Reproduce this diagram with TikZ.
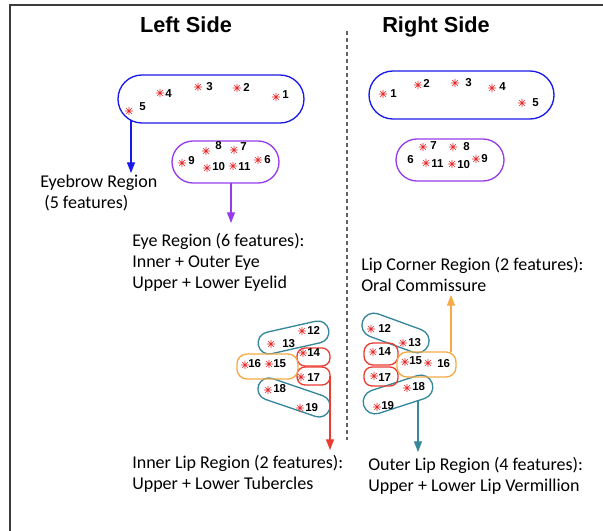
\documentclass[tikz,border=0pt]{standalone}
\usepackage{fontspec}
\setmainfont{Carlito}
\newfontfamily\arialf{Liberation Sans}
\usetikzlibrary{arrows.meta}
\newlength\pxu \setlength\pxu{0.75pt}
\definecolor{cblue}{RGB}{25,25,235}
\definecolor{cpurple}{RGB}{150,60,235}
\definecolor{cteal}{RGB}{55,135,155}
\definecolor{cred}{RGB}{235,60,50}
\definecolor{corange}{RGB}{245,170,70}
\definecolor{cstar}{RGB}{230,40,40}
\definecolor{cframe}{RGB}{60,60,60}
\tikzset{
 fstar/.pic={\draw[cstar,line width=0.5pt] (-4.2,0)--(4.2,0) (0,-4.2)--(0,4.2) (-3,-3)--(3,3) (-3,3)--(3,-3);},
 num/.style={font=\arialf\bfseries\fontsize{8.6}{9}\selectfont, inner sep=0, anchor=west},
 lab/.style={font=\fontsize{13.5}{16}\selectfont, inner sep=0, anchor=base west},
 head/.style={font=\arialf\bfseries\fontsize{16.3}{19}\selectfont, inner sep=0, anchor=base},
 region/.style={draw, line width=1pt, inner sep=0, outer sep=0},
 arr/.style={line width=0.9pt, -{Triangle[width=6pt,length=8pt]}},
}
\newcommand\feat[6]{\pic at (#2,#3) {fstar}; \node[num] (#1) at (#4,#5) {#6};}
\begin{document}
\begin{tikzpicture}[x=0.75pt,y=-0.75pt]
\useasboundingbox (0,0) rectangle (603,531);
% frame
\draw[cframe, line width=1.2pt] (10,531) -- (10,5) -- (603,5);
% divider
\draw[cframe!80, line width=0.8pt, dash pattern=on 4\pxu off 3\pxu] (347,31) -- (347,440);
% headings
\node[head] (hL) at (186,33) {Left Side};
\node[head] (hR) at (436,33) {Right Side};

% ---------- region boxes ----------
\node[region, cblue, minimum width=186\pxu, minimum height=48\pxu, rounded corners=24\pxu] (ebL) at (211,99) {};
\node[region, cpurple, minimum width=107\pxu, minimum height=42\pxu, rounded corners=21\pxu] (eyeL) at (225.5,162) {};
\node[region, cblue, minimum width=185\pxu, minimum height=48\pxu, rounded corners=24\pxu] (ebR) at (461.5,95) {};
\node[region, cpurple, minimum width=108\pxu, minimum height=42\pxu, rounded corners=21\pxu] (eyeR) at (450,160) {};

% left lips
\node[region, cteal, minimum width=72\pxu, minimum height=22\pxu, rounded corners=11\pxu, rotate=12.7] (ulL) at (293.5,337.5) {};
\node[region, cteal, minimum width=75\pxu, minimum height=22\pxu, rounded corners=11\pxu, rotate=-18.8] (llL) at (294,397.5) {};
\node[region, cred, minimum width=33\pxu, minimum height=18\pxu, rounded corners=8\pxu] (r14L) at (313.5,357) {};
\node[region, cred, minimum width=33\pxu, minimum height=18\pxu, rounded corners=8\pxu] (r17L) at (313.5,376) {};
\node[region, corange, minimum width=61\pxu, minimum height=25\pxu, rounded corners=10\pxu] (oL) at (267.5,366.5) {};

% right lips
\node[region, cteal, minimum width=70\pxu, minimum height=24\pxu, rounded corners=12\pxu, rotate=-20] (ulR) at (395.5,333) {};
\node[region, cteal, minimum width=72\pxu, minimum height=24\pxu, rounded corners=12\pxu, rotate=18] (llR) at (398,394.5) {};
\node[region, cred, minimum width=34\pxu, minimum height=22\pxu, rounded corners=9\pxu] (r14R) at (381,354) {};
\node[region, cred, minimum width=34\pxu, minimum height=19\pxu, rounded corners=8\pxu] (r17R) at (381,376.5) {};
\node[region, corange, minimum width=59\pxu, minimum height=25\pxu, rounded corners=10\pxu] (oR) at (426.5,364.5) {};

% ---------- features ----------
% left eyebrow
\feat{n5L}{129}{111}{139}{107}{5}
\feat{n4L}{160}{93}{165}{94}{4}
\feat{n3L}{198}{87}{206}{87}{3}
\feat{n2L}{237}{88}{243}{87}{2}
\feat{n1L}{276}{97}{282}{95}{1}
% left eye
\feat{n8L}{206}{151}{215}{146}{8}
\feat{n7L}{234}{150}{240}{147}{7}
\feat{n9L}{182}{163}{188}{161}{9}
\feat{n10L}{207}{168}{212}{167}{10}
\feat{n11L}{233}{166}{238}{167}{11}
\feat{n6L}{258}{160}{264}{160}{6}
% right eyebrow
\feat{n1R}{383}{94}{390}{94}{1}
\feat{n2R}{418}{85}{423}{83}{2}
\feat{n3R}{455}{83}{465}{83}{3}
\feat{n4R}{492}{88}{499}{87}{4}
\feat{n5R}{522}{103}{532}{103}{5}
% right eye
\feat{n7R}{423}{147}{430}{146}{7}
\feat{n8R}{453}{147}{463}{147}{8}
\node[num] (n6R) at (407,160) {6};
\feat{n11R}{426}{163}{431}{164}{11}
\feat{n10R}{452}{164}{457}{165}{10}
\feat{n9R}{476}{159}{481}{159}{9}
% left lips
\feat{n12L}{302}{331}{307}{330}{12}
\feat{n13L}{271}{344}{282}{344}{13}
\feat{n14L}{303}{353}{307}{353}{14}
\feat{n17L}{301}{377}{307}{378}{17}
\feat{n16L}{245}{365}{248}{364}{16}
\feat{n15L}{269}{364}{273}{364}{15}
\feat{n18L}{268}{390}{273}{389}{18}
\feat{n19L}{300}{408}{305}{408}{19}
% right lips
\feat{n12R}{371}{329}{378}{328}{12}
\feat{n13R}{403}{343}{408}{343}{13}
\feat{n14R}{373}{352}{378}{352}{14}
\feat{n17R}{374}{376}{378}{378}{17}
\feat{n15R}{405}{362}{409}{361}{15}
\feat{n16R}{428}{363}{437}{364}{16}
\feat{n18R}{407}{388}{412}{387}{18}
\feat{n19R}{377}{407}{381}{406}{19}

% ---------- labels ----------
\node[lab] (tEb1) at (40,188) {Eyebrow Region};
\node[lab] (tEb2) at (40,209) {\ (5 features)};
\node[lab] (tEy1) at (132,246) {Eye Region (6 features):};
\node[lab] (tEy2) at (132,267) {Inner + Outer Eye};
\node[lab] (tEy3) at (132,288) {Upper + Lower Eyelid};
\node[lab] (tLc1) at (361,270) {Lip Corner Region (2 features):};
\node[lab] (tLc2) at (361,291) {Oral Commissure};
\node[lab] (tIl1) at (132,468) {Inner Lip Region (2 features):};
\node[lab] (tIl2) at (132,489) {Upper + Lower Tubercles};
\node[lab] (tOl1) at (368,470) {Outer Lip Region (4 features):};
\node[lab] (tOl2) at (368,491) {Upper + Lower Lip Vermillion};

% ---------- arrows ----------
\coordinate (aBlue) at (131,173);
\coordinate (aPurple) at (231,223);
\coordinate (aRed) at (330,450);
\coordinate (aTealS) at (418,400);
\coordinate (aTeal) at (418,452);
\coordinate (aOrange) at (451,295);
\draw[arr, cblue] ([yshift=2.5\pxu]ebL.south -| aBlue) -- (aBlue);
\draw[arr, cpurple] (eyeL.south -| aPurple) -- (aPurple);
\draw[arr, cred] (r17L.east) -- (aRed);
\draw[arr, cteal] (aTealS) -- (aTeal);
\draw[arr, corange] (oR.north -| aOrange) -- (aOrange);
\end{tikzpicture}
\end{document}
